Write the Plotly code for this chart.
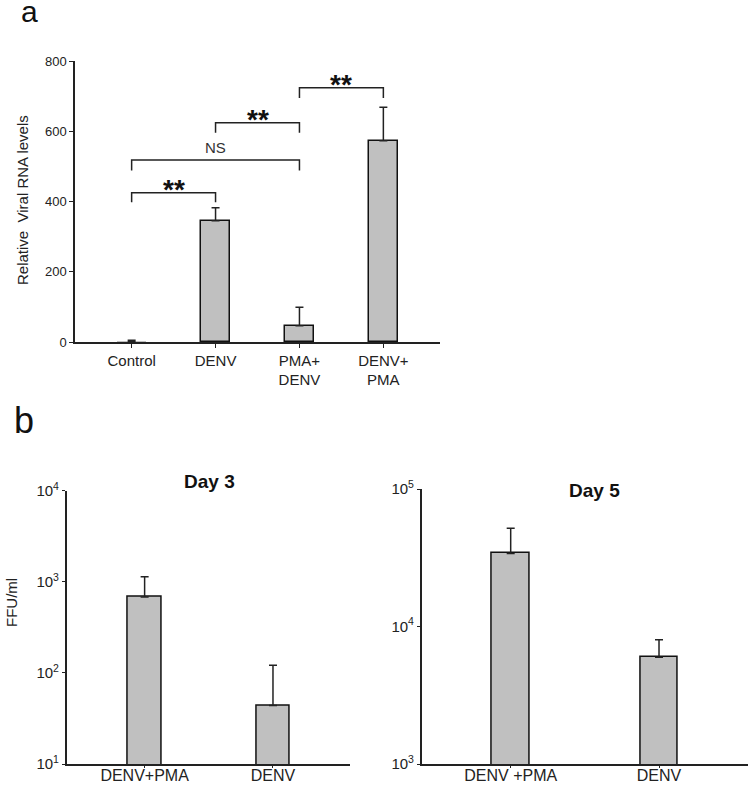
import plotly.graph_objects as go

W, H = 749, 785

# ---------------- Panel a data ----------------
a_categories = ["Control", "DENV", "PMA+<br>DENV", "DENV+<br>PMA"]
a_values = [2, 345, 46, 573]
a_errors = [3, 37, 53, 95]
# comparisons: (left index, right index, bracket top, leg bottom, label)
a_comp_left = [0, 0, 1, 2]
a_comp_right = [1, 2, 2, 3]
a_comp_top = [425, 518, 624, 724]
a_comp_leg = [398, 488, 596, 695]
a_comp_label = ["**", "NS", "**", "**"]

# ---------------- Panel b data ----------------
b3_categories = ["DENV+PMA", "DENV"]
b3_values = [679, 44]
b3_errors = [456, 77]
b3_sig = ["", "**"]
b3_tickvals = [10, 100, 1000, 10000]
b3_ticktext = ["10<sup>1</sup>", "10<sup>2</sup>", "10<sup>3</sup>", "10<sup>4</sup>"]

b5_categories = ["DENV +PMA", "DENV"]
b5_values = [34000, 5980]
b5_errors = [17800, 2020]
b5_sig = ["", "*"]
b5_tickvals = [1000, 10000, 100000]
b5_ticktext = ["10<sup>3</sup>", "10<sup>4</sup>", "10<sup>5</sup>"]

FONT = "Liberation Sans, Arial, sans-serif"
TXT = "#222222"
BAR = "#c0c0c0"


def px_x(p):
    return p / W


def px_y(p):
    return 1 - p / H


fig = go.Figure()

err_style = dict(type="data", symmetric=False, color="#222222", thickness=1.5, width=4)

# the near-zero control bar is hidden under the axis line in the original
a_outline = [0 if v < 5 else 1.5 for v in a_values]

fig.add_trace(go.Bar(
    x=list(range(len(a_categories))), y=a_values, width=0.35,
    marker=dict(color=BAR, line=dict(color="#111111", width=a_outline)),
    error_y=dict(array=a_errors, arrayminus=[0] * len(a_errors), **err_style),
    xaxis="x", yaxis="y", showlegend=False,
))

fig.add_trace(go.Bar(
    x=list(range(len(b3_categories))), y=b3_values, width=0.26,
    marker=dict(color=BAR, line=dict(color="#111111", width=1.5)),
    error_y=dict(array=b3_errors, arrayminus=[0] * len(b3_errors), **err_style),
    xaxis="x2", yaxis="y2", showlegend=False,
))

fig.add_trace(go.Bar(
    x=list(range(len(b5_categories))), y=b5_values, width=0.25,
    marker=dict(color=BAR, line=dict(color="#111111", width=1.5)),
    error_y=dict(array=b5_errors, arrayminus=[0] * len(b5_errors), **err_style),
    xaxis="x3", yaxis="y3", showlegend=False,
))

shapes = []
annotations = []

STAR_FONT = dict(family=FONT, size=28, color="#111111")

# brackets panel a
for l, r, top, leg, lab in zip(a_comp_left, a_comp_right, a_comp_top, a_comp_leg, a_comp_label):
    path = f"M {l},{leg} L {l},{top} L {r},{top} L {r},{leg}"
    shapes.append(dict(type="path", path=path, xref="x", yref="y",
                       line=dict(color="#222222", width=1.5)))
    if lab == "NS":
        annotations.append(dict(x=(l + r) / 2, y=top, xref="x", yref="y", text=lab,
                                showarrow=False, xanchor="center", yanchor="bottom", yshift=2,
                                font=dict(family=FONT, size=15, color="#333333")))
    else:
        annotations.append(dict(x=(l + r) / 2, y=top, xref="x", yref="y", text=f"<b>{lab}</b>",
                                showarrow=False, xanchor="center", yanchor="bottom", yshift=-14,
                                font=STAR_FONT))

# significance marks panel b
for i, (v, e, s) in enumerate(zip(b3_values, b3_errors, b3_sig)):
    if s:
        annotations.append(dict(x=i, y=v + e, xref="x2", yref="y2", xanchor="center",
                                yanchor="bottom", yshift=-10,
                                text=f"<b>{s}</b>", showarrow=False, font=STAR_FONT))
for i, (v, e, s) in enumerate(zip(b5_values, b5_errors, b5_sig)):
    if s:
        annotations.append(dict(x=i, y=v + e, xref="x3", yref="y3", xanchor="center",
                                yanchor="bottom", yshift=-10,
                                text=f"<b>{s}</b>", showarrow=False, font=STAR_FONT))

# panel letters, titles, axis titles
annotations += [
    dict(x=px_x(19), y=px_y(30), xref="paper", yref="paper", xanchor="left", yanchor="bottom",
         text="a", showarrow=False, font=dict(family=FONT, size=30, color="#111111")),
    dict(x=px_x(12), y=px_y(443), xref="paper", yref="paper", xanchor="left", yanchor="bottom",
         text="b", showarrow=False, font=dict(family=FONT, size=36, color="#111111")),
    dict(x=px_x(23), y=px_y(200), xref="paper", yref="paper", text="Relative  Viral RNA levels",
         xanchor="center", yanchor="middle",
         textangle=-90, showarrow=False, font=dict(family=FONT, size=15, color=TXT)),
    dict(x=px_x(11), y=px_y(603), xref="paper", yref="paper", text="FFU/ml",
         xanchor="center", yanchor="middle",
         textangle=-90, showarrow=False, font=dict(family=FONT, size=15, color=TXT)),
    dict(x=px_x(210), y=px_y(481), xref="paper", yref="paper", text="<b>Day 3</b>",
         xanchor="center", yanchor="middle",
         showarrow=False, font=dict(family=FONT, size=19, color="#111111")),
    dict(x=px_x(594), y=px_y(490), xref="paper", yref="paper", text="<b>Day 5</b>",
         xanchor="center", yanchor="middle",
         showarrow=False, font=dict(family=FONT, size=19, color="#111111")),
]

axis_common = dict(showline=True, linecolor="#222222", linewidth=1.5, showgrid=False,
                   zeroline=False, ticks="outside", tickcolor="#222222", automargin=False)

fig.update_layout(
    width=W, height=H, margin=dict(l=0, r=0, t=0, b=0, pad=0, autoexpand=False),
    paper_bgcolor="white", plot_bgcolor="white", showlegend=False,
    bargap=0, shapes=shapes, annotations=annotations,
    xaxis=dict(domain=[px_x(75), px_x(440)], anchor="y", range=[-0.675, 3.675],
               tickvals=list(range(len(a_categories))), ticktext=a_categories,
               ticklen=4, tickfont=dict(family=FONT, size=15, color=TXT), **axis_common),
    yaxis=dict(domain=[px_y(342), px_y(61)], anchor="x", range=[0, 800],
               tickvals=[0, 200, 400, 600, 800], ticklen=4,
               tickfont=dict(family=FONT, size=13, color=TXT), **axis_common),
    xaxis2=dict(domain=[px_x(66.7), px_x(350)], anchor="y2", range=[-0.607, 1.6],
                tickvals=list(range(len(b3_categories))), ticktext=b3_categories, ticklen=2,
                ticklabelstandoff=-6,
                tickfont=dict(family=FONT, size=16, color=TXT), **axis_common),
    yaxis2=dict(domain=[px_y(764), px_y(490.7)], anchor="x2", type="log", range=[1, 4],
                tickvals=b3_tickvals, ticktext=b3_ticktext, ticklen=3,
                tickfont=dict(family=FONT, size=15, color=TXT), **axis_common),
    xaxis3=dict(domain=[px_x(421.7), px_x(748)], anchor="y3", range=[-0.6, 1.6],
                tickvals=list(range(len(b5_categories))), ticktext=b5_categories, ticklen=2,
                ticklabelstandoff=-6,
                tickfont=dict(family=FONT, size=16, color=TXT), **axis_common),
    yaxis3=dict(domain=[px_y(764), px_y(489)], anchor="x3", type="log", range=[3, 5],
                tickvals=b5_tickvals, ticktext=b5_ticktext, ticklen=3,
                tickfont=dict(family=FONT, size=15, color=TXT), **axis_common),
)

fig.write_html("out.html", config={"displayModeBar": False},
               post_script="document.body.style.margin='0';document.body.style.overflow='hidden';")
